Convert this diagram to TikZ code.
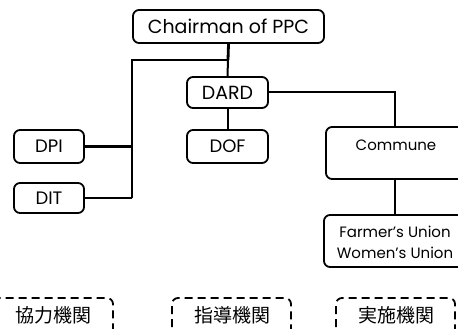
\documentclass[tikz,border=0pt]{standalone}
\usepackage{fontspec}
\setmainfont{Poppins}
\newfontfamily\jpfont{Noto Sans CJK JP}
\begin{document}
\begin{tikzpicture}[x=1pt,y=-1pt,
  orgbox/.style={draw=black,line width=1.8pt,rounded corners=6pt,inner sep=0pt,font=\fontsize{18}{21}\selectfont},
  link/.style={line width=2pt},
  heavylink/.style={line width=2.8pt},
  rolebox/.style={draw=black,line width=1.8pt,dash pattern=on 8pt off 5pt,rounded corners=6pt},
  rolelabel/.style={font=\jpfont\fontsize{19}{21}\selectfont}]
\clip (0,0) rectangle (458,329);
\useasboundingbox (0,0) rectangle (458,329);

% administrative units
\node[orgbox,minimum width=191pt,minimum height=33pt,font=\fontsize{19}{21}\selectfont] (ppc) at (228.5,26.5) {Chairman of PPC};
\node[orgbox,minimum width=81pt,minimum height=31pt,font=\fontsize{19}{21}\selectfont] (dard) at (227.5,92.5) {DARD};
\node[orgbox,minimum width=81pt,minimum height=33pt] (dof) at (227.5,146.5) {DOF};
\node[orgbox,minimum width=70pt,minimum height=33pt] (dpi) at (49,146.5) {DPI};
\node[orgbox,minimum width=70pt,minimum height=30pt] (dit) at (49,198) {DIT};

% commune level (boxes run past the right edge)
\draw[orgbox] (326,179) rectangle (480,127);
\node[font=\fontsize{15}{18}\selectfont] (commune) at (396,145) {Commune};
\coordinate (communetop) at (395,127);
\coordinate (communebot) at (395,179);
\draw[orgbox] (324,267) rectangle (480,215);
\node[font=\fontsize{15}{21}\selectfont,align=center,inner sep=0pt] (unions) at (395,242.5)
  {Farmer’s Union\\Women’s Union};
\coordinate (unionstop) at (395,215);

% connectors
\coordinate (split) at (228,60);
\coordinate (corner) at (132,60);
\coordinate (ditcorner) at (132,198);
\coordinate (dardturn) at (395,92);
\draw[heavylink] (ppc.south) -- (split);
\draw[link] (split) -- (dard.north);
\draw[heavylink] (split) -- (corner) -- (ditcorner);
\draw[link] (ditcorner) -- (dit.east);
\draw[heavylink] (dpi.east) -- (dpi.east -| corner);
\draw[link] (dard.east) -- (dard.east -| dardturn) -- (communetop);
\draw[link] (dard.south) -- (dof.north);
\draw[link] (communebot) -- (unionstop);

% role groups along the bottom
\draw[rolebox] (-20,340) -- (-20,298) -- (113,298) -- (113,340);
\node[rolelabel] (coop) at (54,315) {協力機関};
\draw[rolebox] (172,340) -- (172,298) -- (291,298) -- (291,340);
\node[rolelabel] (guide) at (232,315) {指導機関};
\draw[rolebox] (336,340) -- (336,298) -- (455,298) -- (455,340);
\node[rolelabel] (impl) at (396,315) {実施機関};
\end{tikzpicture}
\end{document}
